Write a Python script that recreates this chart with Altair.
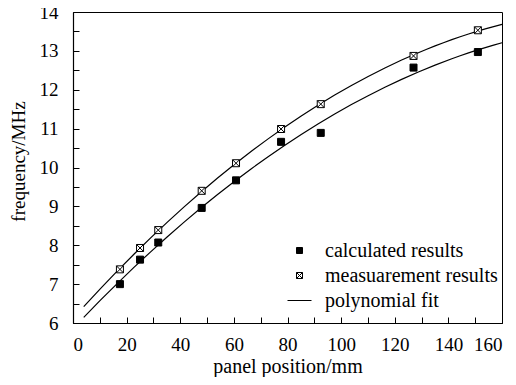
import altair as alt
import pandas as pd

positions = [17.5, 25.0, 31.8, 48.0, 60.8, 77.6, 92.4, 127.0, 151.0]
calculated = [7.00, 7.63, 8.07, 8.96, 9.67, 10.66, 10.89, 12.57, 12.97]
measured = [7.38, 7.93, 8.39, 9.40, 10.11, 10.99, 11.63, 12.87, 13.53]

x_major = [0, 20, 40, 60, 80, 100, 120, 140, 160]
x_minor = list(range(0, 161, 10))
y_major = [6, 7, 8, 9, 10, 11, 12, 13, 14]
y_minor = [6 + 0.5 * i for i in range(17)]

labels = ["calculated results", "measuarement results", "polynomial fit"]

rows = []
for p, c, m in zip(positions, calculated, measured):
    rows.append({"pos": p, "freq": c, "series": labels[0]})
    rows.append({"pos": p, "freq": m, "series": labels[1]})
df = pd.DataFrame(rows)

FONT = "Liberation Serif, Times New Roman, Times, serif"

sq = "M-0.25,-0.25H0.25V0.25H-0.25Z"
crossed = "M-0.25,-0.25H0.25V0.25H-0.25Z M-0.25,-0.25L0.25,0.25 M0.25,-0.25L-0.25,0.25"
line_sym = "M-1,0H1"

xscale = alt.Scale(domain=[0, 160], nice=False)
yscale = alt.Scale(domain=[6, 14], nice=False, zero=False)

legend_def = alt.Legend(
    title=None, orient="none", legendX=214, legendY=226,
    symbolStrokeWidth=1,
)

points = alt.Chart(df).mark_point(filled=True, size=784, strokeWidth=1, opacity=1).encode(
    x=alt.X("pos:Q", scale=xscale,
            axis=alt.Axis(orient="bottom", values=x_major, ticks=False, grid=False,
                          title="panel position/mm", titleY=33,
                          labelPadding=12, domainColor="black", domainWidth=1.2)),
    y=alt.Y("freq:Q", scale=yscale,
            axis=alt.Axis(orient="left", values=y_major, ticks=False, grid=False,
                          title="frequency/MHz", titleY=149, titleX=-45,
                          titleFontSize=19,
                          labelPadding=15, domainColor="black", domainWidth=1.2)),
    shape=alt.Shape("series:N",
                    scale=alt.Scale(domain=labels, range=[sq, crossed, line_sym]),
                    legend=legend_def),
    fill=alt.Fill("series:N",
                  scale=alt.Scale(domain=labels, range=["black", "white", "transparent"]),
                  legend=legend_def),
    stroke=alt.Stroke("series:N",
                      scale=alt.Scale(domain=labels, range=["black", "black", "black"]),
                      legend=legend_def),
)

fits = alt.Chart(df).transform_regression(
    "pos", "freq", groupby=["series"], method="poly", order=2, extent=[4, 160]
).mark_line(color="black", strokeWidth=1.2).encode(
    x=alt.X("pos:Q", scale=xscale,
            axis=alt.Axis(orient="bottom", values=x_minor, labels=False, domain=False,
                          grid=False, title=None, offset=-6, tickSize=6,
                          tickColor="black", tickWidth=1)),
    y=alt.Y("freq:Q", scale=yscale,
            axis=alt.Axis(orient="left", values=y_minor, labels=False, domain=False,
                          grid=False, title=None, offset=-6, tickSize=6,
                          tickColor="black", tickWidth=1)),
    detail="series:N",
)

chart = alt.layer(fits, points).resolve_axis(x="independent", y="independent").properties(
    width=429, height=311,
    autosize=alt.AutoSizeParams(type="none"),
    padding={"left": 65, "top": 4, "right": 6, "bottom": 54},
    background="white",
).configure_view(stroke="black", strokeWidth=1).configure_axis(
    labelFont=FONT, labelFontSize=19, labelColor="black",
    titleFont=FONT, titleFontSize=20, titleColor="black", titleFontWeight="normal",
).configure_legend(
    labelFont=FONT, labelFontSize=20, labelColor="black",
    symbolSize=576, labelOffset=13, rowPadding=2, labelLimit=300,
)

chart.save("out.html", embed_options={"renderer": "svg", "actions": False})
